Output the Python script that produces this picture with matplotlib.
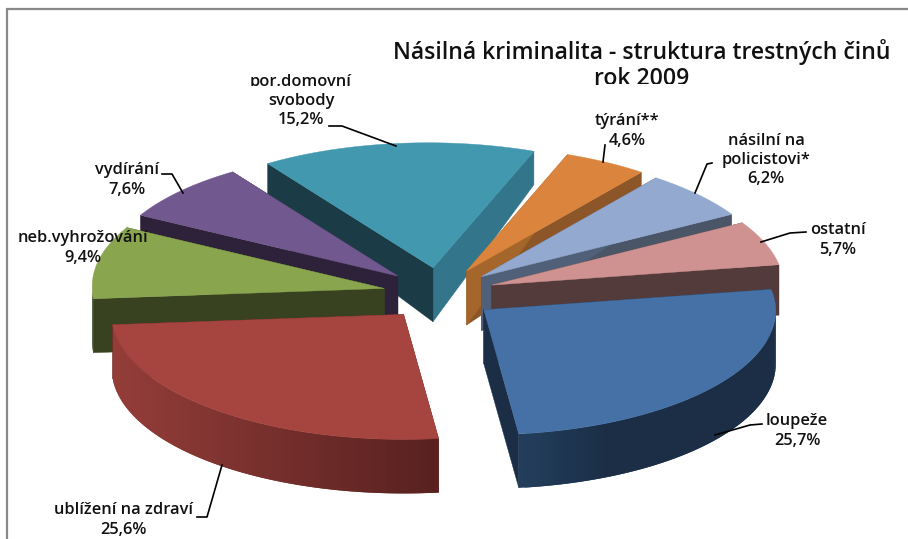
import numpy as np
import matplotlib
matplotlib.use("Agg")
import matplotlib.pyplot as plt
from matplotlib.patches import Polygon, Rectangle
from matplotlib.colors import to_rgb

plt.rcParams['font.family'] = ['Open Sans', 'DejaVu Sans']

# Data (clockwise from the start angle)
categories = ["loupeže", "ublížení na zdraví", "neb.vyhrožování", "vydírání",
              "por.domovní\nsvobody", "týrání**", "násilní na\npolicistovi*", "ostatní"]
values = [25.7, 25.6, 9.4, 7.6, 15.2, 4.6, 6.2, 5.7]
title = "Násilná kriminalita - struktura trestných činů\nrok 2009"

top_colors = ["#4571A6", "#A64440", "#89A54E", "#71588F", "#4198AF", "#DB843D", "#93A9CF", "#D09290"]
wall_from = ["#233F5E", "#943D39", "#384220", "#2D2239", "#1B3C47", "#8C5628", "#4A5568", "#533B3C"]
wall_to = ["#1B2E46", "#57211F", "#384220", "#2D2239", "#1B3C47", "#8C5628", "#4A5568", "#533B3C"]
cut_start = ["#1B2E46", "#57211F", "#384220", "#2D2239", "#1B3C47", "#A5662C", "#4F6078", "#533B3C"]
cut_end = ["#1B2E46", "#57211F", "#384220", "#2D2239", "#33758A", "#8C5628", "#4A5568", "#533B3C"]

# Layout of the projected pie, in pixels
CX, CY, RX, RY, EXPLODE, DEPTH = 439, 294, 292, 125, 56, 54
START = 9.4
BACK_SHIFT = 5
draw_order = [4, 5, 6, 7, 3, 2, 0, 1]

fig = plt.figure(figsize=(9.08, 5.39), dpi=100)
ax = fig.add_axes([0, 0, 1, 1])
ax.set_xlim(0, 908)
ax.set_ylim(539, 0)
ax.axis("off")

ax.plot([7, 7, 908], [539, 9, 9], color="#888888", lw=1.6, solid_joinstyle="miter", zorder=1)


def edge_depth(t):
    return DEPTH - 22 * max(0.0, np.sin(t))


angles = START - np.cumsum([0] + values) * 3.6
z = 2
for i in draw_order:
    a0, a1 = np.radians(angles[i]), np.radians(angles[i + 1])
    mid = (a0 + a1) / 2
    ax_x = CX + EXPLODE * np.cos(mid)
    ax_y = CY - EXPLODE * RY / RX * np.sin(mid) * 1.1
    ts = np.linspace(a0, a1, 80)
    xs = ax_x + RX * np.cos(ts) - BACK_SHIFT * np.maximum(0, np.sin(ts))
    ys = ax_y - RY * np.sin(ts)
    ds = np.array([edge_depth(t) for t in ts])

    # cut faces
    ax.add_patch(Polygon([(ax_x, ax_y), (xs[-1], ys[-1]), (xs[-1], ys[-1] + ds[-1]), (ax_x, ax_y + DEPTH)],
                         closed=True, fc=cut_end[i], ec=cut_end[i], lw=0.3, zorder=z))
    z += 1
    ax.add_patch(Polygon([(ax_x, ax_y), (xs[0], ys[0]), (xs[0], ys[0] + ds[0]), (ax_x, ax_y + DEPTH)],
                         closed=True, fc=cut_start[i], ec=cut_start[i], lw=0.3, zorder=z))
    z += 1

    # outer wall with a left-to-right gradient; the strips overlap so no seams show
    c0, c1 = np.array(to_rgb(wall_from[i])), np.array(to_rgb(wall_to[i]))
    xmin, xmax = xs.min(), xs.max()
    order = np.argsort(xs[:-1])
    for k in order:
        if np.sin((ts[k] + ts[k + 1]) / 2) < 0:
            f = ((xs[k] + xs[k + 1]) / 2 - xmin) / max(xmax - xmin, 1)
            if i == 0:
                f = min(1, f * 3)
            col = c0 + (c1 - c0) * f
            m = min(k + 2, len(ts) - 1) if xs[k + 1] > xs[k] else k + 1
            n = k if xs[k + 1] > xs[k] else max(k - 1, 0)
            ax.add_patch(Polygon([(xs[n], ys[n]), (xs[m], ys[m]),
                                  (xs[m], ys[m] + ds[m]), (xs[n], ys[n] + ds[n])],
                                 closed=True, fc=col, ec="none", zorder=z))
    z += 1

    # top face
    ax.add_patch(Polygon(np.vstack([[ax_x, ax_y], np.column_stack([xs, ys])]),
                         closed=True, fc=top_colors[i], ec=top_colors[i], lw=0.3, zorder=z))
    z += 1

# Leader lines
leaders = [
    [(329, 126), (342, 126), (396, 146)],
    [(162, 174), (172, 174), (183, 193)],
    [(605, 145), (603, 162)],
    [(712, 163), (707, 164), (695, 193)],
    [(806, 232), (790, 233), (761, 242)],
    [(762, 424), (750, 425), (715, 435)],
    [(197, 517), (207, 517), (222, 465)],
]
for pts in leaders:
    px, py = zip(*pts)
    ax.plot(px, py, color="black", lw=1.2, zorder=200)

# Labels
label_pos = [(797, 431), (123, 520), (83, 248), (127, 180), (301, 101), (627, 131), (766, 160), (838, 240)]
for i, (name, v) in enumerate(zip(categories, values)):
    s = name + "\n" + f"{v:.1f}".replace(".", ",") + "%"
    ax.text(label_pos[i][0], label_pos[i][1], s, ha="center", va="center", fontsize=11.8,
            fontweight="semibold", color="#111111", linespacing=1.27, zorder=210)

ax.text(642, 65, title, ha="center", va="center", fontsize=16.6, fontweight="semibold",
        color="#111111", linespacing=1.12, zorder=210)

# The reference crops the last title line and two labels at their lower edges
ax.add_patch(Rectangle((600, 84), 90, 8, fc="white", ec="none", zorder=220))
ax.add_patch(Rectangle((800, 256), 70, 6, fc="white", ec="none", zorder=220))
ax.add_patch(Rectangle((245, 86), 115, 4, fc="white", ec="none", zorder=220))

fig.savefig("out.png", dpi=100)
